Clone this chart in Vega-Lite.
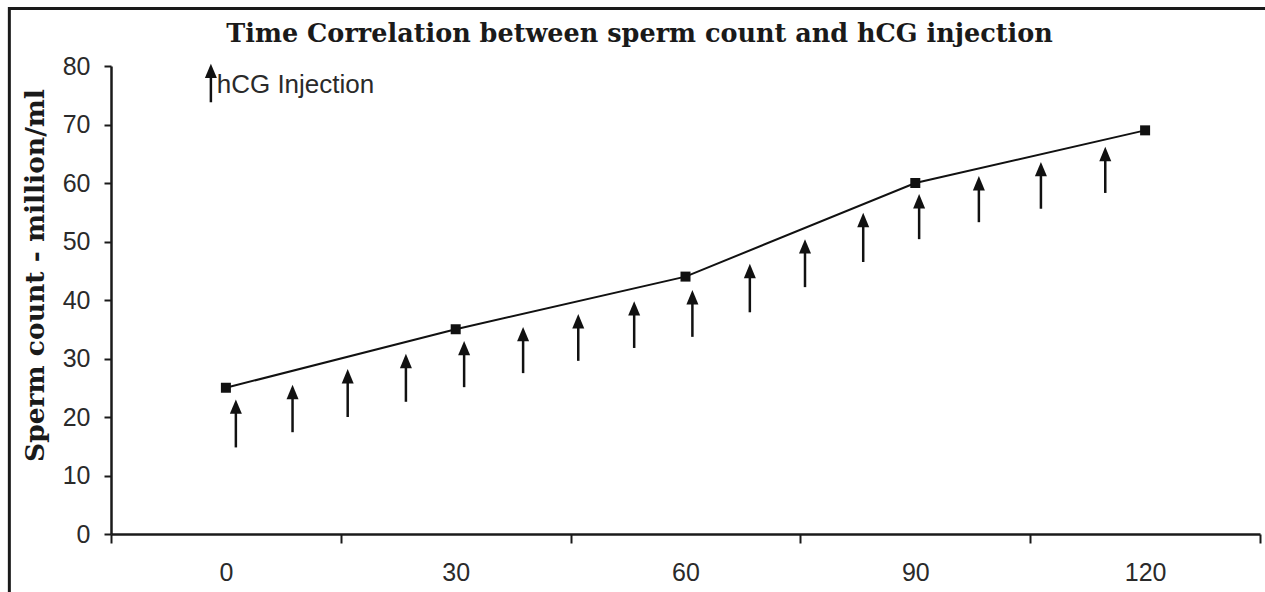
{
  "$schema": "https://vega.github.io/schema/vega-lite/v6.json",
  "width": 1149,
  "height": 468,
  "autosize": {"type": "none"},
  "padding": {"left": 111, "top": 66, "right": 5, "bottom": 58},
  "background": "white",
  "config": {"view": {"stroke": null}},
  "title": {
    "text": "Time Correlation between sperm count and hCG injection",
    "font": "DejaVu Serif",
    "fontWeight": "bold",
    "fontSize": 25.5,
    "color": "#1a1a1a",
    "anchor": "middle",
    "frame": "group",
    "baseline": "alphabetic",
    "offset": -61,
    "dx": -46
  },
  "datasets": {
    "sperm": [
      {"day": 0, "count": 25},
      {"day": 30, "count": 35},
      {"day": 60, "count": 44},
      {"day": 90, "count": 60},
      {"day": 120, "count": 69}
    ],
    "arrows": [
      {"x": 1.3, "y0": 14.8, "y1": 23.0},
      {"x": 8.7, "y0": 17.4, "y1": 25.5},
      {"x": 15.9, "y0": 20.0, "y1": 28.2},
      {"x": 23.5, "y0": 22.6, "y1": 30.8},
      {"x": 31.1, "y0": 25.1, "y1": 33.0},
      {"x": 38.8, "y0": 27.5, "y1": 35.4},
      {"x": 46.0, "y0": 29.6, "y1": 37.6},
      {"x": 53.3, "y0": 31.8, "y1": 39.8},
      {"x": 60.9, "y0": 33.7, "y1": 41.7},
      {"x": 68.4, "y0": 37.9, "y1": 46.2},
      {"x": 75.6, "y0": 42.2, "y1": 50.4},
      {"x": 83.2, "y0": 46.5, "y1": 54.9},
      {"x": 90.5, "y0": 50.4, "y1": 58.1},
      {"x": 98.3, "y0": 53.3, "y1": 61.2},
      {"x": 106.4, "y0": 55.6, "y1": 63.6},
      {"x": 114.8, "y0": 58.3, "y1": 66.2}
    ],
    "legend": [
      {"x": -1.96, "y0": 73.8, "y1": 80.4, "tx": -1.2, "ty": 76.8, "label": "hCG Injection"}
    ],
    "frame": [
      {"x1": -28.27, "x2": 150, "y1": 89.83, "y2": -20}
    ]
  },
  "layer": [
    {
      "data": {"name": "sperm"},
      "mark": {"type": "line", "color": "#111", "strokeWidth": 2},
      "encoding": {
        "x": {
          "field": "day", "type": "quantitative",
          "scale": {"domain": [-15, 135], "nice": false, "zero": false},
          "axis": {
            "title": null,
            "values": [-15, 0, 15, 30, 45, 60, 75, 90, 105, 120, 135],
            "labelExpr": "datum.value >= 0 && datum.value % 30 == 0 ? datum.label : ''",
            "tickOpacity": {"condition": {"test": "datum.value % 30 == 0", "value": 0}, "value": 1},
            "grid": false,
            "domainColor": "#1a1a1a",
            "domainWidth": 2.5,
            "tickColor": "#1a1a1a",
            "tickWidth": 2,
            "tickSize": 9,
            "labelPadding": 17,
            "labelFont": "Liberation Sans",
            "labelFontSize": 25,
            "labelColor": "#2a2a2a",
            "labelFlush": false,
            "labelOverlap": false
          }
        },
        "y": {
          "field": "count", "type": "quantitative",
          "scale": {"domain": [0, 80], "nice": false},
          "axis": {
            "title": "Sperm count - million/ml",
            "titleFont": "DejaVu Serif",
            "titleFontWeight": "bold",
            "titleFontSize": 26.5,
            "titleColor": "#1a1a1a",
            "titleX": -76,
            "titleY": 209,
            "titleAngle": 270,
            "titleBaseline": "middle",
            "titleAlign": "center",
            "values": [0, 10, 20, 30, 40, 50, 60, 70, 80],
            "grid": false,
            "domainColor": "#1a1a1a",
            "domainWidth": 2.5,
            "tickColor": "#1a1a1a",
            "tickWidth": 2,
            "tickSize": 7,
            "labelPadding": 14,
            "labelFont": "Liberation Sans",
            "labelFontSize": 25,
            "labelColor": "#2a2a2a",
            "labelFlush": false,
            "labelOverlap": false
          }
        }
      }
    },
    {
      "data": {"name": "frame"},
      "mark": {"type": "rect", "fill": null, "stroke": "#1a1a1a", "strokeWidth": 3, "clip": false},
      "encoding": {
        "x": {"field": "x1", "type": "quantitative"},
        "x2": {"field": "x2"},
        "y": {"field": "y1", "type": "quantitative"},
        "y2": {"field": "y2"}
      }
    },
    {
      "data": {"name": "sperm"},
      "mark": {"type": "point", "shape": "square", "filled": true, "color": "#111", "size": 100, "opacity": 1},
      "encoding": {
        "x": {"field": "day", "type": "quantitative"},
        "y": {"field": "count", "type": "quantitative"}
      }
    },
    {
      "data": {"name": "arrows"},
      "mark": {"type": "rule", "color": "#111", "strokeWidth": 2.5, "y2Offset": 6},
      "encoding": {
        "x": {"field": "x", "type": "quantitative"},
        "y": {"field": "y0", "type": "quantitative"},
        "y2": {"field": "y1"}
      }
    },
    {
      "data": {"name": "arrows"},
      "mark": {"type": "point", "shape": "M0,0L-1,2.4L1,2.4Z", "filled": true, "color": "#111", "size": 144, "opacity": 1},
      "encoding": {
        "x": {"field": "x", "type": "quantitative"},
        "y": {"field": "y1", "type": "quantitative"}
      }
    },
    {
      "data": {"name": "legend"},
      "mark": {"type": "rule", "color": "#111", "strokeWidth": 2.5, "y2Offset": 6, "clip": false},
      "encoding": {
        "x": {"field": "x", "type": "quantitative"},
        "y": {"field": "y0", "type": "quantitative"},
        "y2": {"field": "y1"}
      }
    },
    {
      "data": {"name": "legend"},
      "mark": {"type": "point", "shape": "M0,0L-1,2.4L1,2.4Z", "filled": true, "color": "#111", "size": 144, "opacity": 1, "clip": false},
      "encoding": {
        "x": {"field": "x", "type": "quantitative"},
        "y": {"field": "y1", "type": "quantitative"}
      }
    },
    {
      "data": {"name": "legend"},
      "mark": {"type": "text", "align": "left", "baseline": "middle", "font": "Liberation Sans", "fontSize": 26, "color": "#2a2a2a", "clip": false},
      "encoding": {
        "x": {"field": "tx", "type": "quantitative"},
        "y": {"field": "ty", "type": "quantitative"},
        "text": {"field": "label"}
      }
    }
  ]
}
